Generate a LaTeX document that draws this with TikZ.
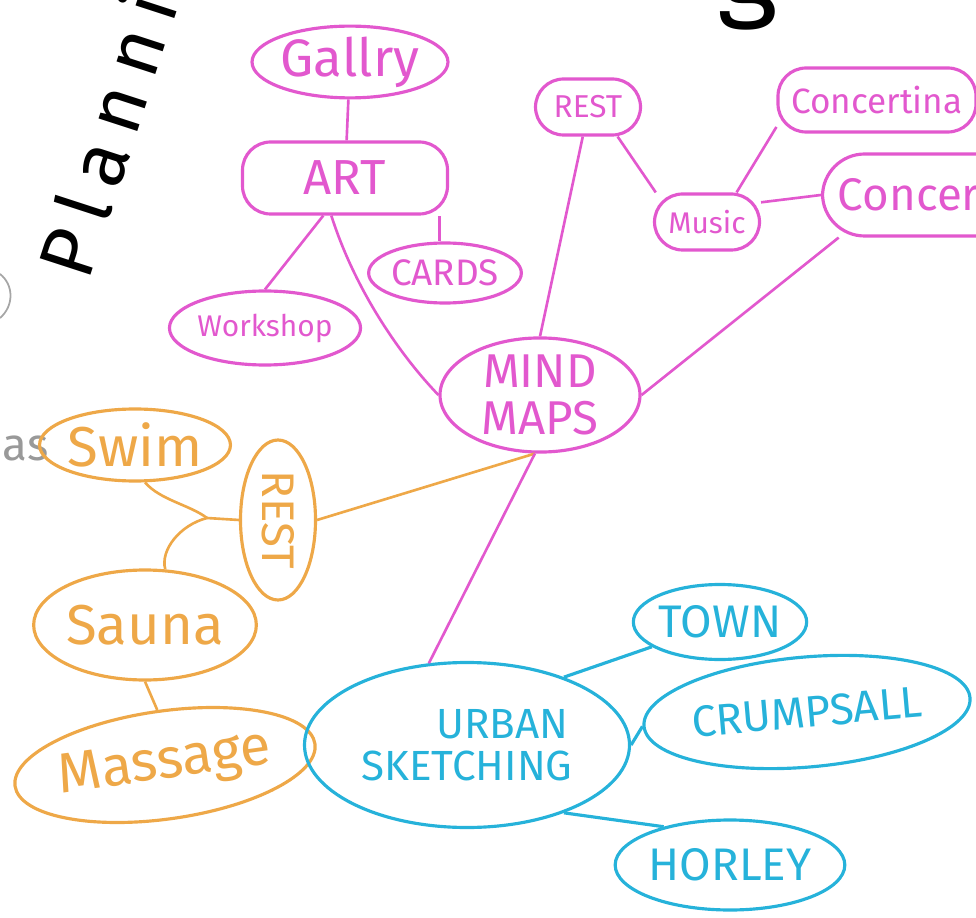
\documentclass[tikz,border=0pt]{standalone}
\usepackage{fontspec}
\setmainfont{Fira Sans}
\usetikzlibrary{shapes.geometric}
\definecolor{mmpink}{RGB}{226,88,206}
\definecolor{mmorange}{RGB}{238,168,72}
\definecolor{mmcyan}{RGB}{38,178,218}
\newcommand{\fsz}[1]{\fontsize{#1}{#1}\selectfont}

\begin{document}
\begin{tikzpicture}[x=0.02cm,y=-0.02cm,line width=1.8pt,
  bubble/.style={ellipse,draw,inner sep=0pt,align=center},
  pill/.style={rectangle,rounded corners=16pt,draw,inner sep=0pt,align=center},
  pinkline/.style={mmpink,line width=1.5pt},
  orangeline/.style={mmorange,line width=1.5pt},
  cyanline/.style={mmcyan,line width=1.8pt}]
  \useasboundingbox (0,0) rectangle (976,918);
  \clip (0,0) rectangle (976,918);

  % title fragments
  \node[rotate=72,anchor=base west,inner sep=0pt,font=\fsz{44}] (title) at (88,284)
    {P\hspace{8pt}l\hspace{8pt}a\hspace{8pt}n\hspace{8pt}n\hspace{8pt}i};
  \node[anchor=base,inner sep=0pt,font=\fsz{66}] (gtail) at (748,6) {g};
  \node[anchor=base east,inner sep=0pt,text=black!40,font=\fsz{26}] (astext) at (50,460) {as};
  \draw[black!35,line width=1pt] (0,274) .. controls (14,285) and (14,306) .. (0,318);

  % MIND MAPS branch
  \begin{scope}[mmpink]
    \node[bubble,minimum width=172*0.02cm,minimum height=68*0.02cm,font=\fsz{30}] (gallry) at (350,62) {Gallry};
    \node[pill,minimum width=205*0.02cm,minimum height=72*0.02cm,font=\fsz{28}] (art) at (345,178) {ART};
    \node[bubble,minimum width=152*0.02cm,minimum height=60*0.02cm,font=\fsz{21}] (cards) at (445,273) {CARDS};
    \node[bubble,minimum width=162*0.02cm,minimum height=74*0.02cm,font=\fsz{17}] (workshop) at (265,328) {Workshop};
    \node[bubble,minimum width=200*0.02cm,minimum height=112*0.02cm,font=\fsz{27}] (mind) at (540,395) {MIND\\MAPS};
    \node[pill,minimum width=105*0.02cm,minimum height=56*0.02cm,font=\fsz{18}] (restp) at (588,107) {REST};
    \node[pill,minimum width=105*0.02cm,minimum height=56*0.02cm,font=\fsz{17}] (music) at (707,222) {Music};
    \node[pill,minimum width=198*0.02cm,minimum height=64*0.02cm,font=\fsz{20}] (concertina) at (877,100) {Concertina};
    \node[pill,rounded corners=24pt,minimum width=215*0.02cm,minimum height=82*0.02cm,font=\fsz{26}] (concerto) at (930,195) {Concerto};
  \end{scope}
  \draw[pinkline] (gallry) -- (art);
  \draw[pinkline] (cards.100) -- (cards.100 |- art.south);
  \draw[pinkline] (art.-120) -- (workshop.north);
  \draw[pinkline] (art.-110) .. controls (355,290) and (400,355) .. (mind.west);
  \draw[pinkline] (restp.-100) -- (mind.north);
  \draw[pinkline] (restp.-45) -- (music.150);
  \draw[pinkline] (music.45) -- (concertina.-165);
  \draw[pinkline] (music.20) -- (concerto.west);
  \draw[pinkline] (concerto.-155) -- (mind.east);

  % REST branch
  \begin{scope}[mmorange]
    \node[bubble,minimum width=190*0.02cm,minimum height=72*0.02cm,font=\fsz{32}] (swim) at (135,445) {Swim};
    \node[bubble,rotate=-90,minimum width=160*0.02cm,minimum height=75*0.02cm,font=\fsz{26}] (resto) at (278,520) {REST};
    \node[bubble,minimum width=215*0.02cm,minimum height=110*0.02cm,font=\fsz{32}] (sauna) at (145,625) {Sauna};
    \node[bubble,rotate=8,minimum width=275*0.02cm,minimum height=108*0.02cm,font=\fsz{32}] (massage) at (165,765) {Massage};
  \end{scope}
  \coordinate (jn) at (207,518);
  \draw[orangeline] (swim.-75) .. controls (160,500) and (190,505) .. (jn);
  \draw[orangeline] (sauna.70) .. controls (160,550) and (180,525) .. (jn);
  \draw[orangeline] (jn) -- (resto.south);
  \draw[orangeline] (sauna.south) -- (massage.north);
  \draw[orangeline] (mind.-95) -- (resto.north);

  % URBAN SKETCHING branch
  \begin{scope}[mmcyan]
    \node[bubble,minimum width=325*0.02cm,minimum height=165*0.02cm,font=\fsz{24}] (urban) at (467,745) {\hspace*{40pt}URBAN\\SKETCHING};
    \node[bubble,minimum width=160*0.02cm,minimum height=75*0.02cm,font=\fsz{26}] (town) at (720,622) {TOWN};
    \node[bubble,rotate=5,minimum width=295*0.02cm,minimum height=110*0.02cm,font=\fsz{25}] (crump) at (807,712) {CRUMPSALL};
    \node[bubble,minimum width=220*0.02cm,minimum height=90*0.02cm,font=\fsz{26}] (horley) at (730,865) {HORLEY};
  \end{scope}
  \draw[pinkline] (mind.-95) -- (urban.115);
  \draw[cyanline] (urban.35) -- (town.-160);
  \draw[cyanline] (urban.east) -- (crump.west);
  \draw[cyanline] (urban.-35) -- (horley.150);
\end{tikzpicture}
\end{document}
